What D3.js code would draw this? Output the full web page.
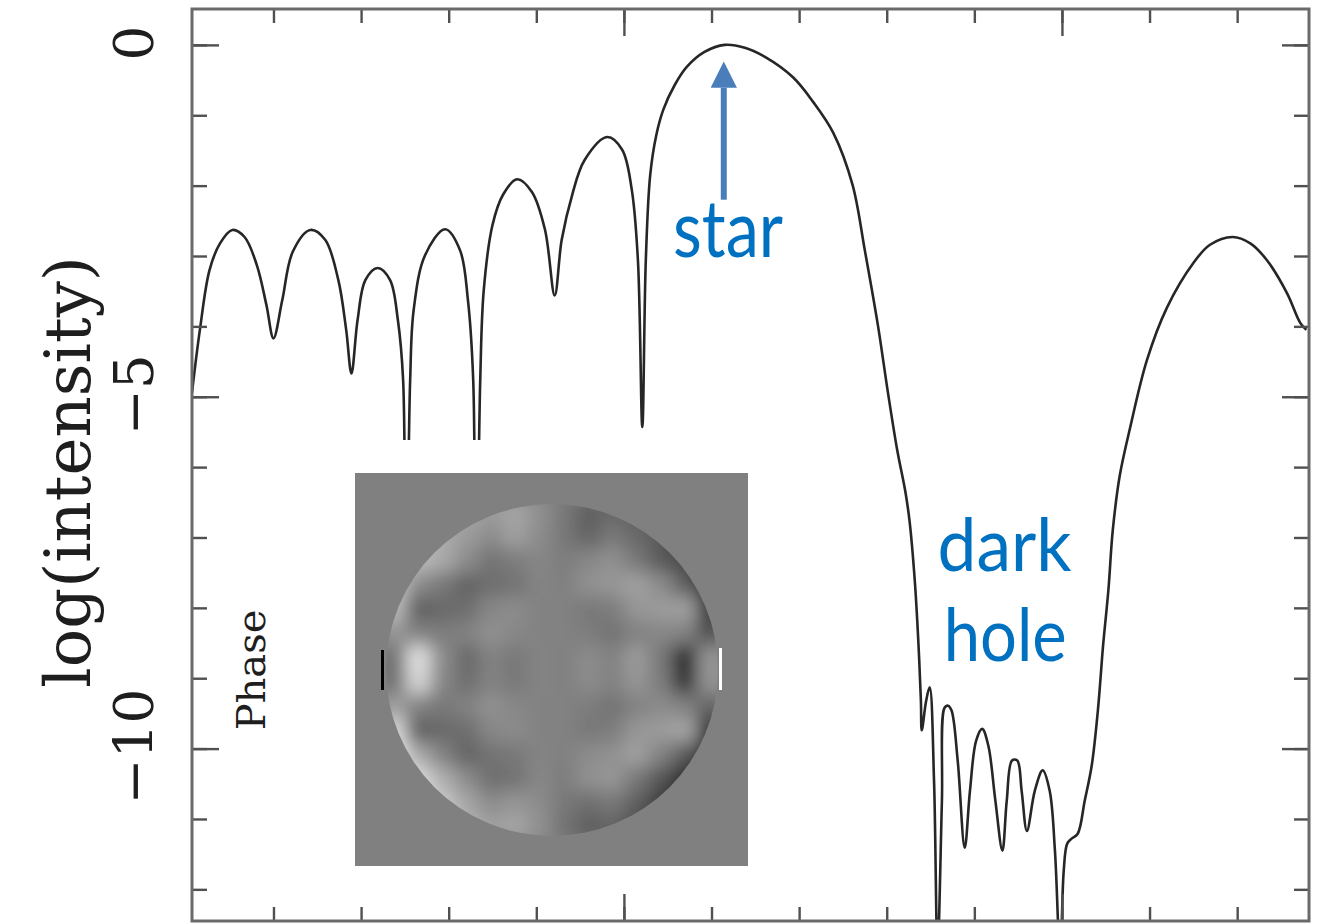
<!DOCTYPE html>
<html>
<head>
<meta charset="utf-8">
<script src="https://cdn.jsdelivr.net/npm/d3@7"></script>
<style>
  body { margin: 0; background: #fff; }
  svg { display: block; }
</style>
</head>
<body>
<div id="chart"></div>
<script>
// separation (x) and log(intensity)
var offsets = [
  -4.93, -4.84, -4.73, -4.61, -4.47, -4.33, -4.19, -4.08, -4.00, -3.90,
  -3.78, -3.58, -3.41, -3.26, -3.17, -3.11, -3.04, -2.95, -2.81, -2.67,
  -2.58, -2.52, -2.49, -2.44, -2.40, -2.27, -2.04, -1.87, -1.78, -1.72,
  -1.69, -1.64, -1.60, -1.50, -1.38, -1.22, -1.05, -0.90, -0.79, -0.71,
  -0.59, -0.45, -0.19, -0.02, 0.09, 0.16, 0.21, 0.25, 0.30, 0.37,
  0.45, 0.58, 0.72, 0.92, 1.15, 1.38, 1.61, 1.93, 2.16, 2.39,
  2.61, 2.75, 2.90, 3.01, 3.12, 3.21, 3.26, 3.32, 3.36,
  3.39, 3.40, 3.45, 3.49, 3.54, 3.58, 3.63, 3.66, 3.70, 3.74,
  3.81, 3.89, 3.95, 4.02, 4.09, 4.16, 4.24, 4.32, 4.37, 4.43,
  4.49, 4.54, 4.60, 4.69, 4.78, 4.86, 4.92, 4.98, 5.02, 5.06,
  5.11, 5.18, 5.26, 5.34, 5.41, 5.47, 5.53, 5.58, 5.66, 5.78,
  5.97, 6.20, 6.50, 6.69, 6.95, 7.15, 7.34, 7.57, 7.72, 7.79
];
var logIntensity = [
  -4.94, -4.05, -3.20, -2.82, -2.63, -2.73, -3.13, -3.70, -4.17, -3.63,
  -2.94, -2.63, -2.77, -3.34, -4.05, -4.67, -3.91, -3.34, -3.17, -3.34,
  -3.91, -4.77, -8.50, -4.77, -3.77, -2.99, -2.62, -2.92, -3.63, -4.77,
  -8.50, -4.77, -3.49, -2.56, -2.13, -1.91, -2.09, -2.63, -3.56, -2.77,
  -2.13, -1.64, -1.31, -1.49, -2.06, -3.06, -5.43, -3.06, -1.85, -1.28,
  -0.92, -0.57, -0.31, -0.10, 0.00, -0.04, -0.17, -0.46, -0.81, -1.25,
  -1.99, -2.92, -3.99, -4.91, -5.76, -6.33, -6.76, -7.61, -8.46,
  -9.32, -9.74, -9.32, -9.13, -10.46, -12.90, -10.74, -9.42, -9.39, -9.46,
  -10.17, -11.41, -10.60, -9.89, -9.72, -9.96, -10.74, -11.45, -10.74, -10.17,
  -10.17, -10.60, -11.17, -10.60, -10.31, -10.60, -11.45, -13.00, -11.74, -11.35,
  -11.28, -11.21, -10.74, -10.24, -9.46, -8.53, -7.75, -6.90, -6.12, -5.43,
  -4.48, -3.73, -3.10, -2.84, -2.73, -2.82, -3.06, -3.53, -3.95, -4.05
];

var xMinorTicks = [-4, -3, -2, -1, 0, 1, 2, 3, 4, 5, 6, 7];
var xMajorTicks = [0, 5];
var yMinorTicks = [0, -1, -2, -3, -4, -5, -6, -7, -8, -9, -10, -11, -12];
var yMajorTicks = [0, -5, -10];
var yTickLabels = ["0", "\u22125", "\u221210"];

// phase map of the pupil, grey level per cell (0 black .. 255 white)
var phaseGrid = [
  [200, 190, 175, 165, 155, 165, 145, 120,  95, 105,  95,  85,  70,  60],
  [200, 190, 170, 155, 140, 160, 140, 120, 100, 120, 105,  90,  70,  55],
  [200, 185, 170, 140, 115, 125, 135, 125, 135, 145, 120,  90,  70,  45],
  [200, 140, 120, 100, 110, 115, 132, 128, 145, 150, 160, 140,  95,  40],
  [190,  95, 105, 110, 135, 140, 130, 130, 120, 125, 150, 155, 160,  45],
  [150, 130, 125, 130, 145, 135, 130, 130, 125, 115, 130, 135, 130,  80],
  [110, 225, 140, 105, 130, 120, 132, 128, 140, 130, 155, 120,  35, 150],
  [110, 215, 135, 110, 130, 120, 132, 128, 140, 130, 150, 125,  45, 150],
  [160, 130, 120, 130, 145, 135, 130, 130, 125, 115, 130, 140, 130, 100],
  [220,  95, 105, 110, 135, 140, 130, 130, 120, 125, 150, 155, 165,  40],
  [235, 170, 130, 100, 115, 120, 132, 128, 140, 145, 160, 130,  90,  25],
  [240, 220, 175, 140, 110, 115, 135, 125, 145, 150, 120,  85,  40,  20],
  [240, 235, 200, 165, 140, 150, 140, 120, 110, 120,  95,  60,  25,  20],
  [240, 240, 215, 180, 160, 165, 145, 115,  95, 100,  80,  45,  20,  20]
];

var annotations = [
  { text: "star", x: 0.56, y: -3.02, size: 80, len: 110 },
  { text: "dark", x: 3.58, y: -7.47, size: 74, len: 134 },
  { text: "hole", x: 3.65, y: -8.75, size: 74, len: 123 }
];
var arrowX = 1.14, arrowFrom = -2.20, arrowTo = -0.24;

var width = 1320, height = 923;
var frame = { left: 192, right: 1309, top: 9, bottom: 921 };

var svg = d3.select("#chart").append("svg")
  .attr("width", width).attr("height", height)
  .attr("viewBox", [0, 0, width, height]);

var x = d3.scaleLinear().domain([-4.93, 7.82]).range([frame.left, frame.right]);
var y = d3.scaleLinear().domain([-12.45, 0.51]).range([frame.bottom, frame.top]);

var defs = svg.append("defs");
defs.append("clipPath").attr("id", "plot-clip")
  .append("rect")
  .attr("x", frame.left).attr("y", frame.top)
  .attr("width", frame.right - frame.left).attr("height", frame.bottom - frame.top);

// curve
var points = offsets.map(function (d, i) { return [d, logIntensity[i]]; });
var line = d3.line()
  .x(function (d) { return x(d[0]); })
  .y(function (d) { return y(d[1]); })
  .curve(d3.curveCatmullRom.alpha(0.5));

svg.append("path")
  .datum(points)
  .attr("clip-path", "url(#plot-clip)")
  .attr("fill", "none")
  .attr("stroke", "#262626")
  .attr("stroke-width", 2.6)
  .attr("stroke-linejoin", "round")
  .attr("d", line);

// ticks (all inward)
function ticks(axis, values, size, tx, ty) {
  svg.append("g")
    .attr("transform", "translate(" + tx + "," + ty + ")")
    .call(axis.tickValues(values).tickSize(size).tickFormat(""))
    .call(function (g) {
      g.select(".domain").remove();
      g.selectAll(".tick line").attr("stroke", "#505050").attr("stroke-width", 2.4);
    });
}
ticks(d3.axisBottom(x), xMinorTicks, 14, 0, frame.top);
ticks(d3.axisBottom(x), xMajorTicks, 27, 0, frame.top);
ticks(d3.axisTop(x), xMinorTicks, 14, 0, frame.bottom);
ticks(d3.axisTop(x), xMajorTicks, 27, 0, frame.bottom);
ticks(d3.axisRight(y), yMinorTicks, 15, frame.left, 0);
ticks(d3.axisRight(y), yMajorTicks, 27, frame.left, 0);
ticks(d3.axisLeft(y), yMinorTicks, 15, frame.right, 0);
ticks(d3.axisLeft(y), yMajorTicks, 27, frame.right, 0);

// inset picture (white backing, grey square, phase disc)
var inset = { left: 222, top: 440, right: 752, bottom: 872,
  sqX: 355, sqY: 473, sqSize: 393, cx: 552, cy: 670, r: 166 };

svg.append("rect")
  .attr("x", inset.left).attr("y", inset.top)
  .attr("width", inset.right - inset.left).attr("height", inset.bottom - inset.top)
  .attr("fill", "#fff");

svg.append("rect")
  .attr("x", inset.sqX).attr("y", inset.sqY)
  .attr("width", inset.sqSize).attr("height", inset.sqSize)
  .attr("fill", "#808080");

defs.append("clipPath").attr("id", "disc-clip")
  .append("circle").attr("cx", inset.cx).attr("cy", inset.cy).attr("r", inset.r);
var blur = defs.append("filter").attr("id", "soft")
  .attr("x", "-10%").attr("y", "-10%").attr("width", "120%").attr("height", "120%");
blur.append("feGaussianBlur").attr("stdDeviation", 9);

var gx = d3.scaleBand().domain(d3.range(phaseGrid[0].length))
  .range([inset.cx - inset.r - 4, inset.cx + inset.r + 4]);
var gy = d3.scaleBand().domain(d3.range(phaseGrid.length))
  .range([inset.cy - inset.r - 4, inset.cy + inset.r + 4]);
var grey = d3.scaleLinear().domain([0, 255]).range(["#000000", "#ffffff"]);

var cells = [];
phaseGrid.forEach(function (row, j) {
  row.forEach(function (v, i) { cells.push({ i: i, j: j, v: v }); });
});

svg.append("g").attr("clip-path", "url(#disc-clip)")
  .append("g").attr("filter", "url(#soft)")
  .selectAll("rect")
  .data(cells)
  .enter()
  .append("rect")
  .attr("x", function (d) { return gx(d.i) - 0.5; })
  .attr("y", function (d) { return gy(d.j) - 0.5; })
  .attr("width", gx.bandwidth() + 1)
  .attr("height", gy.bandwidth() + 1)
  .attr("fill", function (d) { return grey(d.v); });

// small reference marks at the disc rim
svg.append("rect")
  .attr("x", inset.cx - inset.r - 5).attr("y", inset.cy - 20)
  .attr("width", 3).attr("height", 40).attr("fill", "#000");
svg.append("rect")
  .attr("x", inset.cx + inset.r + 1).attr("y", inset.cy - 22)
  .attr("width", 3).attr("height", 42).attr("fill", "#fff");

svg.append("text")
  .attr("transform", "translate(265," + inset.cy + ") rotate(-90)")
  .attr("text-anchor", "middle")
  .attr("font-family", "DejaVu Serif")
  .attr("font-size", 40)
  .attr("fill", "#1e1e1e")
  .text("Phase");

// frame
svg.append("rect")
  .attr("x", frame.left).attr("y", frame.top)
  .attr("width", frame.right - frame.left).attr("height", frame.bottom - frame.top)
  .attr("fill", "none")
  .attr("stroke", "#6a6a6a")
  .attr("stroke-width", 3);

// y tick labels and title
svg.selectAll(".ylab")
  .data(yMajorTicks)
  .enter()
  .append("text")
  .attr("class", "ylab")
  .attr("transform", function (d) { return "translate(153," + (y(d) - 2) + ") rotate(-90)"; })
  .attr("text-anchor", "middle")
  .attr("font-family", "DejaVu Serif")
  .attr("font-size", 55)
  .attr("fill", "#1e1e1e")
  .text(function (d, i) { return yTickLabels[i]; });

svg.append("text")
  .attr("transform", "translate(90," + 472 + ") rotate(-90)")
  .attr("text-anchor", "middle")
  .attr("font-family", "DejaVu Serif")
  .attr("font-size", 64)
  .attr("fill", "#1e1e1e")
  .text("log(intensity)");

// annotations
defs.append("marker").attr("id", "head")
  .attr("viewBox", "0 0 10 10").attr("refX", 0).attr("refY", 5)
  .attr("markerWidth", 4.4).attr("markerHeight", 4.4)
  .attr("markerUnits", "strokeWidth")
  .attr("orient", "auto")
  .append("path").attr("d", "M0,0 L10,5 L0,10 Z").attr("fill", "#4a7ebb");

svg.append("line")
  .attr("x1", x(arrowX)).attr("x2", x(arrowX))
  .attr("y1", y(arrowFrom)).attr("y2", y(arrowTo) + 26)
  .attr("stroke", "#4a7ebb")
  .attr("stroke-width", 6)
  .attr("marker-end", "url(#head)");

svg.selectAll(".note")
  .data(annotations)
  .enter()
  .append("text")
  .attr("class", "note")
  .attr("x", function (d) { return x(d.x); })
  .attr("y", function (d) { return y(d.y); })
  .attr("font-family", "Lato")
  .attr("font-size", function (d) { return d.size; })
  .attr("textLength", function (d) { return d.len; })
  .attr("lengthAdjust", "spacingAndGlyphs")
  .attr("fill", "#0070c0")
  .text(function (d) { return d.text; });
</script>
</body>
</html>
